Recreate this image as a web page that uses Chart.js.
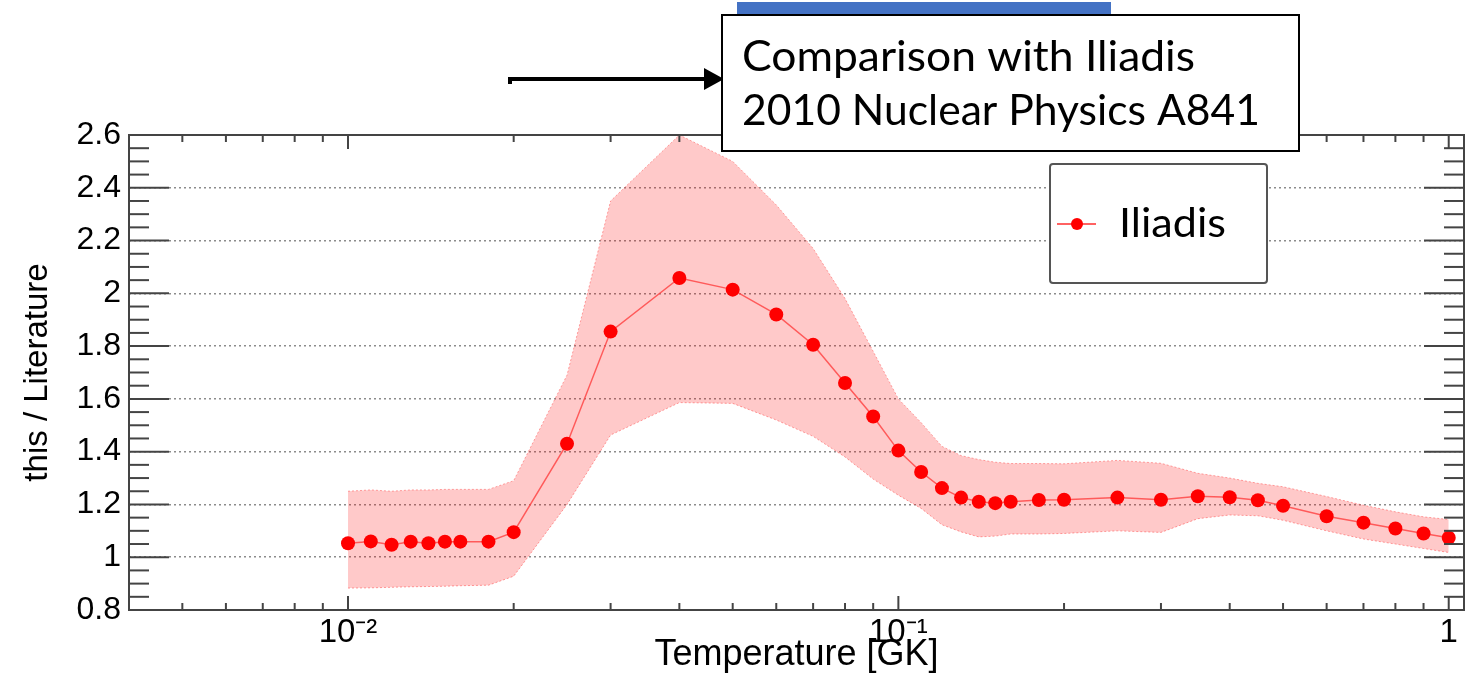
<!DOCTYPE html>
<html>
<head>
<meta charset="utf-8">
<script src="https://cdn.jsdelivr.net/npm/chart.js@4.4.1/dist/chart.umd.min.js"></script>
<style>
html, body { margin: 0; padding: 0; background: #fff; }
#wrap { width: 1471px; height: 675px; position: relative; }
</style>
</head>
<body>
<div id="wrap"><canvas id="c" width="1471" height="675"></canvas></div>
<script>
// temperatures [GK]
var temperature = [0.01, 0.011, 0.012, 0.013, 0.014, 0.015, 0.016, 0.018, 0.02, 0.025,
    0.03, 0.04, 0.05, 0.06, 0.07, 0.08, 0.09, 0.1, 0.11, 0.12, 0.13, 0.14, 0.15, 0.16,
    0.18, 0.2, 0.25, 0.3, 0.35, 0.4, 0.45, 0.5, 0.6, 0.7, 0.8, 0.9, 1.0];
// this / Iliadis
var ratioIliadis = [1.053, 1.06, 1.047, 1.059, 1.053, 1.059, 1.059, 1.059, 1.095, 1.43,
    1.855, 2.058, 2.014, 1.92, 1.805, 1.66, 1.533, 1.404, 1.323, 1.262, 1.226, 1.21, 1.205, 1.21,
    1.217, 1.218, 1.226, 1.218, 1.231, 1.227, 1.216, 1.195, 1.155, 1.131, 1.109, 1.09, 1.074];
// uncertainty band
var bandUpper = [1.25, 1.255, 1.25, 1.255, 1.255, 1.257, 1.257, 1.257, 1.29, 1.69,
    2.35, 2.6, 2.5, 2.335, 2.17, 1.98, 1.78, 1.6, 1.51, 1.42, 1.385, 1.37, 1.36, 1.355,
    1.355, 1.354, 1.367, 1.356, 1.318, 1.30, 1.28, 1.267, 1.23, 1.197, 1.172, 1.153, 1.143];
var bandLower = [0.883, 0.884, 0.886, 0.888, 0.889, 0.89, 0.892, 0.894, 0.928, 1.2,
    1.463, 1.586, 1.583, 1.52, 1.458, 1.38, 1.296, 1.235, 1.185, 1.123, 1.096, 1.077, 1.08, 1.088,
    1.088, 1.09, 1.10, 1.094, 1.146, 1.16, 1.157, 1.14, 1.10, 1.069, 1.05, 1.033, 1.018];

var xMin = 0.004, xMax = 1.066;
var yMin = 0.8, yMax = 2.6;
var xTickValues = [0.01, 0.1, 1];
var xTickLabels = ['10\u207B\u00B2', '10\u207B\u00B9', '1'];
var seriesLabel = 'Iliadis';
var xTitle = 'Temperature [GK]';
var yTitle = 'this / Literature';
var noteLines = ['Comparison with Iliadis', '2010 Nuclear Physics A841'];

function pts(ys) {
    var out = [];
    for (var i = 0; i < temperature.length; i++) out.push({ x: temperature[i], y: ys[i] });
    return out;
}

function seg(ctx, x1, y1, x2, y2) {
    ctx.beginPath(); ctx.moveTo(x1, y1); ctx.lineTo(x2, y2); ctx.stroke();
}

// text squeezed/stretched to a given width
function fitText(ctx, txt, x, y, w) {
    var m = ctx.measureText(txt).width;
    ctx.save();
    ctx.translate(x, y);
    ctx.scale(w / m, 1);
    ctx.fillText(txt, 0, 0);
    ctx.restore();
}

var frameAndNotes = {
    id: 'frameAndNotes',
    afterDatasetsDraw: function (chart) {
        var ctx = chart.ctx, a = chart.chartArea;
        var xs = chart.scales.x, ys = chart.scales.y;
        ctx.save();
        ctx.strokeStyle = '#444';
        ctx.lineWidth = 2;
        // y ticks, left and right
        for (var i = 0; i <= 36; i++) {
            var py = ys.getPixelForValue(yMin + i * 0.05);
            var len = (i % 4 == 0) ? 40 : 20;
            seg(ctx, a.left, py, a.left + len, py);
            seg(ctx, a.right - len, py, a.right, py);
        }
        // x ticks, bottom and top
        var decades = [0.001, 0.01, 0.1, 1];
        for (var d = 0; d < decades.length; d++) {
            for (var k = 1; k <= 9; k++) {
                var v = k * decades[d];
                if (v < xMin || v > xMax) continue;
                var px = xs.getPixelForValue(v);
                var l = (k == 1) ? 14 : 7;
                seg(ctx, px, a.bottom, px, a.bottom - l);
                seg(ctx, px, a.top, px, a.top + l);
            }
        }
        ctx.strokeRect(a.left, a.top, a.right - a.left, a.bottom - a.top);
        ctx.restore();
    },
    afterDraw: function (chart) {
        var ctx = chart.ctx;
        var ds = chart.data.datasets[0];
        ctx.save();

        // legend
        ctx.fillStyle = '#fff';
        ctx.strokeStyle = '#555';
        ctx.lineWidth = 2;
        ctx.beginPath();
        ctx.roundRect(1050, 164, 217, 119, 3);
        ctx.fill();
        ctx.stroke();
        ctx.strokeStyle = ds.borderColor;
        ctx.lineWidth = 2;
        seg(ctx, 1057, 224, 1096, 224);
        ctx.fillStyle = ds.pointBackgroundColor;
        ctx.beginPath(); ctx.arc(1077, 224, 6, 0, Math.PI * 2); ctx.fill();
        ctx.fillStyle = '#000';
        ctx.font = '41px Lato';
        ctx.textBaseline = 'alphabetic';
        fitText(ctx, ds.label, 1119, 237, 107);

        // blue bar behind the note
        ctx.fillStyle = '#4472C4';
        ctx.fillRect(737, 2, 374, 14);

        // arrow
        ctx.strokeStyle = '#000';
        ctx.lineWidth = 4;
        seg(ctx, 509, 79, 708, 79);
        seg(ctx, 510, 77, 510, 84);
        ctx.fillStyle = '#000';
        ctx.beginPath();
        ctx.moveTo(704, 68); ctx.lineTo(724, 79); ctx.lineTo(704, 90); ctx.closePath();
        ctx.fill();

        // note box
        ctx.fillStyle = '#fff';
        ctx.fillRect(722, 15, 577, 136);
        ctx.strokeStyle = '#000';
        ctx.lineWidth = 2;
        ctx.strokeRect(722, 15, 577, 136);
        ctx.fillStyle = '#000';
        ctx.font = '42px Lato';
        fitText(ctx, noteLines[0], 742, 71, 453);
        fitText(ctx, noteLines[1], 742, 125, 518);

        ctx.restore();
    }
};

var chart = new Chart(document.getElementById('c'), {
    type: 'scatter',
    data: {
        datasets: [
            {
                label: seriesLabel,
                data: pts(ratioIliadis),
                showLine: true,
                borderColor: 'rgba(255, 70, 70, 0.85)',
                borderWidth: 1.5,
                pointRadius: 7,
                pointBackgroundColor: '#ff0000',
                pointBorderWidth: 0,
                fill: false
            },
            {
                label: 'upper',
                data: pts(bandUpper),
                showLine: true,
                borderColor: 'rgba(255, 90, 90, 0.55)',
                borderWidth: 1,
                borderDash: [2, 2],
                pointRadius: 0,
                backgroundColor: 'rgba(255, 0, 0, 0.21)',
                fill: '+1'
            },
            {
                label: 'lower',
                data: pts(bandLower),
                showLine: true,
                borderColor: 'rgba(255, 90, 90, 0.55)',
                borderWidth: 1,
                borderDash: [2, 2],
                pointRadius: 0,
                fill: false
            }
        ]
    },
    options: {
        responsive: false,
        devicePixelRatio: 1,
        animation: false,
        layout: { padding: { top: 135, right: 3, left: 0, bottom: 0 } },
        plugins: { legend: { display: false }, tooltip: { enabled: false } },
        scales: {
            x: {
                type: 'logarithmic',
                min: xMin,
                max: xMax,
                afterBuildTicks: function (s) {
                    s.ticks = xTickValues.map(function (v) { return { value: v }; });
                },
                ticks: {
                    autoSkip: false,
                    maxRotation: 0,
                    padding: 3,
                    color: '#000',
                    font: { family: 'Liberation Sans', size: 33 },
                    callback: function (v, i) { return xTickLabels[i]; }
                },
                grid: { display: false, drawTicks: false },
                border: { display: false },
                title: {
                    display: true, text: xTitle, color: '#000',
                    font: { family: 'Liberation Sans', size: 36 },
                    padding: { top: 0, bottom: -2 }
                },
                afterFit: function (s) { s.height = 65; }
            },
            y: {
                type: 'linear',
                min: yMin,
                max: yMax,
                ticks: {
                    stepSize: 0.2,
                    padding: 8,
                    color: '#000',
                    font: { family: 'Liberation Sans', size: 32 },
                    callback: function (v) { return String(Math.round(v * 10) / 10); }
                },
                grid: { color: '#8c8c8c', lineWidth: 1.5, drawTicks: false },
                border: { display: false, dash: [2, 3] },
                title: {
                    display: true, text: yTitle, color: '#000',
                    font: { family: 'Liberation Sans', size: 33 },
                    padding: { top: 18, bottom: 0 }
                },
                afterFit: function (s) { s.width = 129; }
            }
        }
    },
    plugins: [frameAndNotes]
});
</script>
</body>
</html>
